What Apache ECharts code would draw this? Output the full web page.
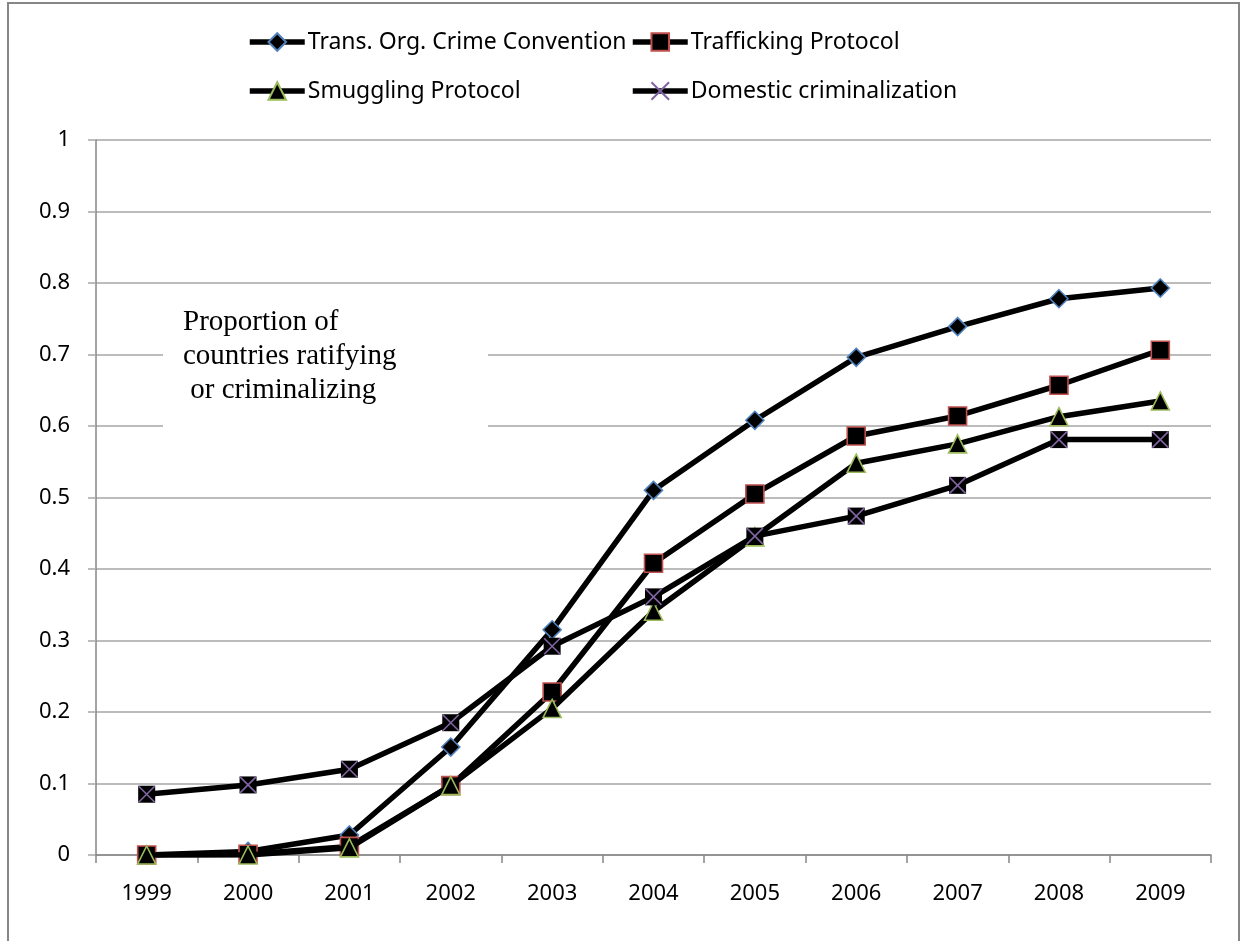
<!DOCTYPE html>
<html>
<head>
<meta charset="utf-8">
<script src="https://cdn.jsdelivr.net/npm/echarts@6/dist/echarts.min.js"></script>
<style>
  html, body { margin: 0; padding: 0; background: #fff; }
  #chart { width: 1241px; height: 941px; }
</style>
</head>
<body>
<div id="chart"></div>
<script>
// Years on the category axis
const years = ['1999', '2000', '2001', '2002', '2003', '2004', '2005', '2006', '2007', '2008', '2009'];

// Share of countries ratifying / criminalizing, by year
const transOrgCrime = [0, 0.005, 0.028, 0.151, 0.315, 0.510, 0.608, 0.696, 0.739, 0.778, 0.793];
const trafficking   = [0, 0.001, 0.012, 0.097, 0.228, 0.408, 0.505, 0.586, 0.614, 0.657, 0.706];
const smuggling     = [0, 0, 0.010, 0.097, 0.205, 0.341, 0.445, 0.548, 0.575, 0.613, 0.635];
const domestic      = [0.085, 0.098, 0.120, 0.185, 0.292, 0.361, 0.446, 0.474, 0.517, 0.581, 0.581];

const seriesNames = ['Trans. Org. Crime Convention', 'Trafficking Protocol', 'Smuggling Protocol', 'Domestic criminalization'];
const annotation = 'Proportion of\ncountries ratifying\n or criminalizing';

const FONT = 'Noto Sans';
const AXIS_GREY = '#868686';
const GRID_GREY = '#a6a6a6';
const LINE_W = 5.5;

const chart = echarts.init(document.getElementById('chart'), null, { renderer: 'canvas' });

function lineSeries(name, data, symbol, size, border, z) {
  return {
    name: name,
    type: 'line',
    data: data,
    symbol: symbol,
    symbolSize: size,
    z: z,
    lineStyle: { color: '#000', width: LINE_W, join: 'round' },
    itemStyle: { color: '#000', borderColor: border, borderWidth: 1.6 },
    emphasis: { disabled: true },
    animation: false
  };
}

function legendAt(name, left, top) {
  return {
    data: [name],
    left: left,
    top: top,
    padding: 0,
    itemWidth: 55,
    itemHeight: 22,
    itemGap: 0,
    selectedMode: false,
    lineStyle: { color: '#000', width: LINE_W },
    textStyle: { fontFamily: FONT, fontSize: 23, color: '#000', lineHeight: 26, padding: [0, 0, 0, -2] }
  };
}

// X mark drawn over a black square marker
const xMark = 'path://M0,0L10,10M10,0L0,10';

chart.setOption({
  animation: false,
  backgroundColor: '#fff',
  grid: { left: 96, right: 30, top: 140, bottom: 86 },
  legend: [
    legendAt(seriesNames[0], 247, 29),
    legendAt(seriesNames[1], 630, 29),
    legendAt(seriesNames[2], 247, 78),
    legendAt(seriesNames[3], 630, 78)
  ],
  xAxis: {
    type: 'category',
    data: years,
    boundaryGap: true,
    axisLine: { lineStyle: { color: AXIS_GREY, width: 1.5 } },
    axisTick: { show: true, length: 8, lineStyle: { color: AXIS_GREY, width: 1.5 } },
    axisLabel: { fontFamily: FONT, fontSize: 22, color: '#000', margin: 28 },
    splitLine: { show: false }
  },
  yAxis: {
    type: 'value',
    min: 0,
    max: 1,
    interval: 0.1,
    axisLine: { show: true, lineStyle: { color: AXIS_GREY, width: 1.5 } },
    axisTick: { show: true, length: 8, lineStyle: { color: GRID_GREY, width: 1.5 } },
    axisLabel: {
      fontFamily: FONT, fontSize: 22, color: '#000', margin: 26,
      formatter: v => String(+v.toFixed(1))
    },
    splitLine: { show: true, lineStyle: { color: GRID_GREY, width: 1.5 } }
  },
  graphic: [
    {
      type: 'rect',
      shape: { x: 8, y: 3, width: 1231, height: 980 },
      style: { fill: 'none', stroke: AXIS_GREY, lineWidth: 2 },
      silent: true,
      z: 0
    },
    {
      type: 'rect',
      z: 100,
      shape: { x: 163, y: 290, width: 325, height: 148 },
      style: { fill: '#fff' },
      silent: true
    },
    {
      type: 'text',
      z: 101,
      x: 183,
      y: 305,
      silent: true,
      style: {
        text: annotation,
        fontFamily: 'Liberation Serif',
        fontSize: 29,
        lineHeight: 34,
        fill: '#000',
        verticalAlign: 'top'
      }
    }
  ],
  series: [
    lineSeries(seriesNames[0], transOrgCrime, 'diamond', 18, '#4f81bd', 2),
    lineSeries(seriesNames[1], trafficking, 'rect', 18, '#c0504d', 3),
    lineSeries(seriesNames[2], smuggling, 'triangle', 18, '#9bbb59', 4),
    {
      // black square backing for the domestic criminalization markers
      name: 'domestic-backing',
      type: 'line',
      data: domestic,
      symbol: 'rect',
      symbolSize: 17,
      z: 5,
      lineStyle: { width: 0, opacity: 0 },
      itemStyle: { color: '#000', borderWidth: 0 },
      emphasis: { disabled: true },
      animation: false
    },
    Object.assign(lineSeries(seriesNames[3], domestic, xMark, 16, '#8064a2', 5), {
      itemStyle: { color: '#000', borderColor: '#8064a2', borderWidth: 1.6 }
    })
  ]
});
</script>
</body>
</html>
